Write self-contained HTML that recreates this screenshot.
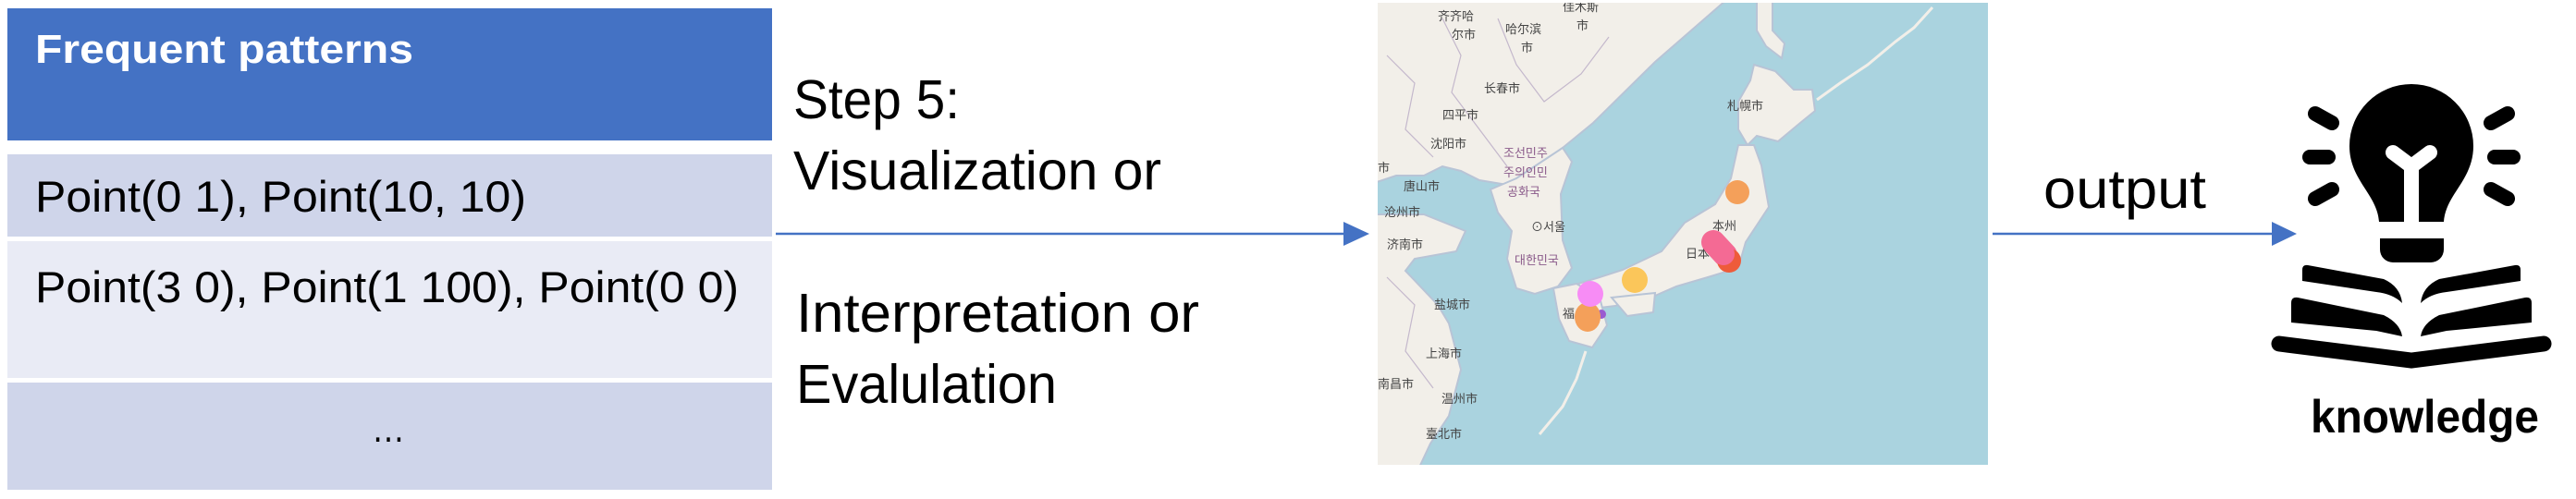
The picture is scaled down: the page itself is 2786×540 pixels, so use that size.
<!DOCTYPE html>
<html><head><meta charset="utf-8"><style>
html,body{margin:0;padding:0;background:#fff;}
svg{display:block;}
</style></head><body>
<svg width="2786" height="540" viewBox="0 0 2786 540" xmlns="http://www.w3.org/2000/svg" font-family="Liberation Sans, sans-serif">
<rect x="0" y="0" width="2786" height="540" fill="#fff"/>
<!-- table -->
<rect x="8" y="9" width="827" height="143" fill="#4472c4"/>
<rect x="8" y="167" width="827" height="89" fill="#cfd5ea"/>
<rect x="8" y="261" width="827" height="148" fill="#e9ebf5"/>
<rect x="8" y="414" width="827" height="116" fill="#cfd5ea"/>
<text x="38" y="68" font-size="44" font-weight="bold" fill="#fff" textLength="409" lengthAdjust="spacingAndGlyphs">Frequent patterns</text>
<text x="38" y="229" font-size="47" fill="#000" textLength="531" lengthAdjust="spacingAndGlyphs">Point(0 1), Point(10, 10)</text>
<text x="38" y="327" font-size="47" fill="#000" textLength="761" lengthAdjust="spacingAndGlyphs">Point(3 0), Point(1 100), Point(0 0)</text>
<text x="402" y="478" font-size="44" fill="#000" textLength="36" lengthAdjust="spacingAndGlyphs">…</text>
<!-- step texts -->
<g font-size="59" fill="#000">
<text x="858" y="128" textLength="180" lengthAdjust="spacingAndGlyphs">Step 5:</text>
<text x="858" y="205" textLength="398" lengthAdjust="spacingAndGlyphs">Visualization or</text>
<text x="861" y="359" textLength="436" lengthAdjust="spacingAndGlyphs">Interpretation or</text>
<text x="861" y="436" textLength="282" lengthAdjust="spacingAndGlyphs">Evalulation</text>
<text x="2210" y="225" textLength="176" lengthAdjust="spacingAndGlyphs">output</text>
</g>
<!-- arrows -->
<line x1="839" y1="253" x2="1456" y2="253" stroke="#4472c4" stroke-width="2.5"/>
<polygon points="1453,240 1481,253 1453,266" fill="#4472c4"/>
<line x1="2155" y1="253" x2="2460" y2="253" stroke="#4472c4" stroke-width="2.5"/>
<polygon points="2457,240 2484,253 2457,266" fill="#4472c4"/>
<!-- map -->
<defs><clipPath id="mc"><rect x="1490" y="3" width="660" height="500"/></clipPath></defs>
<g clip-path="url(#mc)">
<rect x="1490" y="3" width="660" height="500" fill="#aad3df"/>
<g fill="#f2efe9" stroke="#b8c4d6" stroke-width="2">
<polygon points="1480,0 1867,0 1790,67 1723,133 1690,160 1655,185 1630,200 1600,195 1580,185 1560,180 1540,190 1510,190 1480,200"/>
<polygon points="1612,205 1640,193 1690,160 1700,175 1688,210 1690,260 1700,290 1685,310 1660,318 1640,312 1630,280 1635,250 1620,230"/>
<polygon points="1480,232 1540,232 1585,250 1575,272 1530,280 1520,293 1555,330 1567,350 1580,400 1567,450 1547,480 1533,510 1480,510"/>
<polygon points="1900,0 1917,0 1917,33 1930,47 1927,63 1910,50 1900,33"/>
<polygon points="1893,87 1897,70 1920,77 1940,97 1960,97 1963,120 1947,133 1923,153 1900,147 1890,157 1880,140 1880,110"/>
<polygon points="1880,157 1897,157 1905,179 1913,224 1888,262 1880,290 1847,300 1813,310 1790,320 1770,322 1747,331 1722,334 1707,307 1730,300 1755,292 1797,272 1822,241 1855,221 1872,193"/>
<polygon points="1680,312 1705,307 1730,322 1738,352 1722,376 1697,369 1686,345"/>
<polygon points="1743,322 1790,317 1788,338 1760,342"/>
</g>
<g fill="none" stroke="#f2efe9" stroke-width="3">
<polyline points="1965,108 1990,90 2020,70 2050,45 2070,30 2090,8"/>
<polyline points="1715,380 1705,410 1690,440 1665,470"/>
</g>
<g fill="none" stroke="#c4b8cc" stroke-width="1.2">
<path d="M1560,20 L1580,60 L1570,100 L1600,140 L1630,180"/>
<path d="M1620,20 L1640,70 L1670,110 L1710,80 L1740,40"/>
<path d="M1500,60 L1530,90 L1520,140 L1550,170"/>
<path d="M1500,300 L1530,330 L1520,380 L1550,420"/>
</g>
<g font-family="Liberation Sans, Noto Sans CJK SC, sans-serif" font-size="13" fill="#444">
<text x="1555" y="22">齐齐哈</text><text x="1570" y="42">尔市</text>
<text x="1628" y="36">哈尔滨</text><text x="1645" y="56">市</text>
<text x="1690" y="12">佳木斯</text><text x="1705" y="32">市</text>
<text x="1605" y="100">长春市</text><text x="1560" y="129">四平市</text>
<text x="1547" y="160">沈阳市</text><text x="1490" y="186">市</text>
<text x="1518" y="206">唐山市</text><text x="1497" y="234">沧州市</text>
<text x="1500" y="269">济南市</text><text x="1551" y="334">盐城市</text>
<text x="1542" y="387">上海市</text><text x="1559" y="436">温州市</text>
<text x="1542" y="474">臺北市</text><text x="1490" y="420">南昌市</text>
<text x="1868" y="119">札幌市</text><text x="1852" y="249">本州</text>
<text x="1823" y="279">日本</text><text x="1690" y="344">福</text>
</g>
<g font-family="Liberation Sans, Noto Sans CJK KR, sans-serif" font-size="13" fill="#8a5a8a">
<text x="1626" y="170">조선민주</text><text x="1626" y="191">주의인민</text>
<text x="1630" y="212">공화국</text><text x="1638" y="286">대한민국</text>
</g>
<text x="1656" y="250" font-family="Liberation Sans, Noto Sans CJK KR, sans-serif" font-size="13" fill="#444">⊙서울</text>
<circle cx="1879" cy="208" r="13" fill="#f4a05a"/>
<line x1="1853" y1="262" x2="1866" y2="276" stroke="#f46a94" stroke-width="26" stroke-linecap="round"/>
<circle cx="1870" cy="282" r="13" fill="#ee5b3a"/>
<circle cx="1864" cy="275" r="12" fill="#f46a94"/>
<circle cx="1768" cy="303" r="14" fill="#fbc65a"/>
<circle cx="1732" cy="340" r="5" fill="#9a5ad0"/>
<ellipse cx="1717" cy="343" rx="14" ry="16" fill="#f4a05a"/>
<circle cx="1720" cy="318" r="14" fill="#f78cf5"/>
</g>
<!-- knowledge icon -->
<g fill="#000">
<path d="M2541,158 A67,67 0 1 1 2675,158 C2675,195 2645,210 2643,240 L2573,240 C2571,210 2541,195 2541,158 Z"/>
<path d="M2574,258 L2643,258 L2643,270 A14,14 0 0 1 2629,284 L2588,284 A14,14 0 0 1 2574,270 Z"/>
</g>
<g stroke="#fff" stroke-width="16" stroke-linecap="round" fill="none">
<path d="M2588,165 L2608,180 L2628,165"/>
</g>
<rect x="2600" y="178" width="16" height="63" fill="#fff"/>
<g stroke="#000" stroke-width="16" stroke-linecap="round">
<line x1="2504" y1="123" x2="2522" y2="133"/>
<line x1="2498" y1="170" x2="2518" y2="170"/>
<line x1="2504" y1="215" x2="2522" y2="205"/>
<line x1="2712" y1="123" x2="2694" y2="133"/>
<line x1="2698" y1="170" x2="2718" y2="170"/>
<line x1="2712" y1="215" x2="2694" y2="205"/>
</g>
<g fill="#000">
<path d="M2490,292 Q2490,286 2496,287 L2578,302 Q2596,310 2598,328 Q2588,318 2570,316 L2490,304 Z"/>
<path d="M2726,292 Q2726,286 2720,287 L2638,302 Q2620,310 2618,328 Q2628,318 2646,316 L2726,304 Z"/>
<path d="M2478,328 Q2478,321 2485,322 L2578,341 Q2596,350 2598,364 L2570,358 L2478,349 Z"/>
<path d="M2738,328 Q2738,321 2731,322 L2638,341 Q2620,350 2618,364 L2646,358 L2738,349 Z"/>
</g>
<polyline points="2465,372 2608,390 2751,372" fill="none" stroke="#000" stroke-width="17" stroke-linecap="round" stroke-linejoin="miter"/>
<text x="2499" y="468" font-size="50" font-weight="bold" fill="#000" textLength="247" lengthAdjust="spacingAndGlyphs">knowledge</text>
</svg>
</body></html>
